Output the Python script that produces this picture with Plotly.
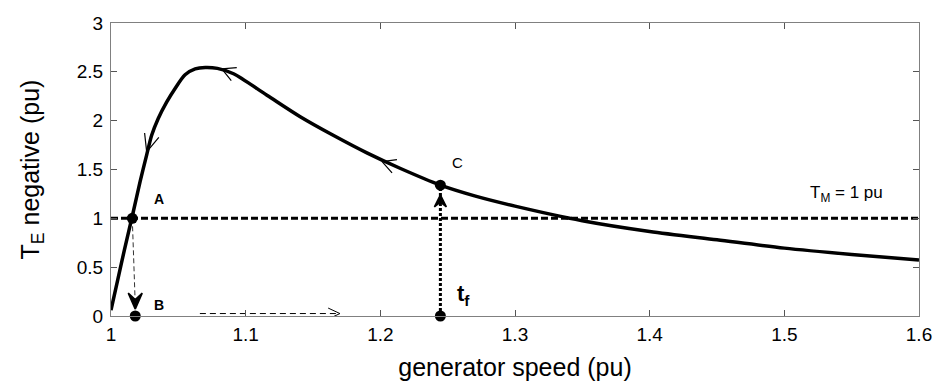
import math
import plotly.graph_objects as go

# ---- data ----
speed = [1.0, 1.005, 1.01, 1.0166, 1.0216, 1.0265, 1.0302, 1.035, 1.0413, 1.0476, 1.055,
         1.0625, 1.07, 1.079, 1.091, 1.1158, 1.1405, 1.165, 1.19, 1.215, 1.2446, 1.27,
         1.3, 1.35, 1.4, 1.45, 1.5, 1.55, 1.6]
te_neg = [0.06, 0.37, 0.68, 1.07, 1.375, 1.65, 1.85, 2.02, 2.19, 2.33, 2.47,
          2.53, 2.545, 2.535, 2.48, 2.26, 2.04, 1.85, 1.67, 1.51, 1.34, 1.23,
          1.125, 0.975, 0.865, 0.78, 0.695, 0.63, 0.573]
tm_level = 1.0
pt_A = (1.0158, 1.0)
pt_B = (1.018, 0.0)
pt_C = (1.2446, 1.34)
pt_tf = (1.2446, 0.0)
shift_x = [1.066, 1.17]       # dashed horizontal arrow B -> tf
shift_y = 0.025
# curve arrows: (tail_x, tail_y, tip_x, tip_y)
curve_arrows = [(1.0302, 1.85, 1.0265, 1.68),
                (1.096, 2.45, 1.0823, 2.53),
                (1.216, 1.505, 1.2013, 1.58)]
x_ticks = [1, 1.1, 1.2, 1.3, 1.4, 1.5, 1.6]
x_ticklabels = ["1", "1.1", "1.2", "1.3", "1.4", "1.5", "1.6"]
y_ticks = [0, 0.5, 1, 1.5, 2, 2.5, 3]
y_ticklabels = ["0", "0.5", "1", "1.5", "2", "2.5", "3"]

FONT = "Liberation Sans, Arial, sans-serif"
W, H = 937, 390
ML, MR, MT, MB = 111, 18, 23, 74
XR = [1, 1.6]
YR = [0, 3]
PX_X = (W - ML - MR) / (XR[1] - XR[0])   # pixels per x unit
PX_Y = (H - MT - MB) / (YR[1] - YR[0])   # pixels per y unit

fig = go.Figure()


def unit_back(tail, tip):
    dx = (tail[0] - tip[0]) * PX_X
    dy = (tail[1] - tip[1]) * PX_Y
    n = math.hypot(dx, dy)
    return dx / n, dy / n


def v_arrow(tail, tip, length=16, half_angle=27, width=1.2):
    """Open V arrow head drawn as two barbs at the tip (computed in pixel space)."""
    ux, uy = unit_back(tail, tip)
    xs, ys = [], []
    for s in (1, -1):
        a = math.radians(half_angle) * s
        bx = ux * math.cos(a) - uy * math.sin(a)
        by = ux * math.sin(a) + uy * math.cos(a)
        xs.append(tip[0] + bx * length / PX_X)
        ys.append(tip[1] + by * length / PX_Y)
    fig.add_trace(go.Scatter(x=[xs[0], tip[0], xs[1]], y=[ys[0], tip[1], ys[1]],
                             mode="lines", line=dict(color="black", width=width),
                             cliponaxis=False, hoverinfo="skip", showlegend=False))


def filled_head(tail, tip, length=14, half_width=5, notch=0.55):
    """Filled barbed arrow head (polygon computed in pixel space)."""
    ux, uy = unit_back(tail, tip)
    px_, py_ = -uy, ux
    pts = [(0, 0),
           (ux * length + px_ * half_width, uy * length + py_ * half_width),
           (ux * length * notch, uy * length * notch),
           (ux * length - px_ * half_width, uy * length - py_ * half_width),
           (0, 0)]
    fig.add_trace(go.Scatter(x=[tip[0] + p[0] / PX_X for p in pts],
                             y=[tip[1] + p[1] / PX_Y for p in pts],
                             mode="lines", fill="toself", fillcolor="black",
                             line=dict(color="black", width=1.5),
                             cliponaxis=False, hoverinfo="skip", showlegend=False))


# T_M horizontal dashed line
fig.add_trace(go.Scatter(x=[x_ticks[0], x_ticks[-1]], y=[tm_level, tm_level], mode="lines",
                         line=dict(color="black", width=3, dash="7px,3px"),
                         hoverinfo="skip", showlegend=False, cliponaxis=False))
# dashed A -> B
fig.add_trace(go.Scatter(x=[pt_A[0], pt_B[0]], y=[pt_A[1], pt_B[1] + 0.12], mode="lines",
                         line=dict(color="#333333", width=1, dash="5px,3px"),
                         hoverinfo="skip", showlegend=False))
# dashed horizontal B -> tf
fig.add_trace(go.Scatter(x=shift_x, y=[shift_y, shift_y], mode="lines",
                         line=dict(color="black", width=1, dash="6px,4px"),
                         hoverinfo="skip", showlegend=False))
# dotted vertical tf -> C
fig.add_trace(go.Scatter(x=[pt_tf[0], pt_C[0]], y=[pt_tf[1], pt_C[1]], mode="lines",
                         line=dict(color="black", width=3, dash="3px,2px"),
                         hoverinfo="skip", showlegend=False))
# torque-speed curve
fig.add_trace(go.Scatter(x=speed, y=te_neg, mode="lines",
                         line=dict(color="black", width=3.5, shape="spline", smoothing=0.8),
                         showlegend=False))
# points
fig.add_trace(go.Scatter(x=[pt_A[0], pt_B[0], pt_C[0], pt_tf[0]],
                         y=[pt_A[1], pt_B[1], pt_C[1], pt_tf[1]], mode="markers",
                         marker=dict(color="black", size=11), cliponaxis=False,
                         showlegend=False))

# arrow heads
v_arrow(curve_arrows[0][:2], curve_arrows[0][2:], length=19, half_angle=23)
v_arrow(curve_arrows[1][:2], curve_arrows[1][2:], length=15, half_angle=28)
v_arrow(curve_arrows[2][:2], curve_arrows[2][2:], length=15, half_angle=28)
v_arrow((shift_x[0], shift_y), (shift_x[1], shift_y), length=13, half_angle=25, width=1)
filled_head((pt_B[0], 0.3), (pt_B[0], 0.07), length=16, half_width=7, notch=0.6)
filled_head((pt_C[0], 0.9), (pt_C[0], 1.24), length=12, half_width=6, notch=0.6)

ann = [
    dict(x=1.036, y=1.2, text="<b>A</b>", showarrow=False, font=dict(size=14, family=FONT, color="black")),
    dict(x=1.036, y=0.11, text="<b>B</b>", showarrow=False, font=dict(size=14, family=FONT, color="black")),
    dict(x=1.257, y=1.57, text="C", showarrow=False, font=dict(size=15, family=FONT, color="black")),
    dict(x=1.262, y=0.22, text="<b>t<sub>f</sub></b>", showarrow=False, font=dict(size=22, family=FONT, color="black")),
    dict(x=1.546, y=1.25, text="T<sub>M</sub> = 1 pu", showarrow=False, font=dict(size=17, family=FONT, color="black")),
]
for a in ann:
    a["xref"] = "x"
    a["yref"] = "y"

axis_common = dict(showline=True, linecolor="#808080", linewidth=1, mirror="ticks",
                   ticks="inside", ticklen=6, tickcolor="#555555", tickwidth=1,
                   showgrid=False, zeroline=False,
                   tickfont=dict(size=19, family=FONT, color="black"))

fig.update_layout(
    width=W, height=H,
    margin=dict(l=ML, r=MR, t=MT, b=MB),
    paper_bgcolor="white", plot_bgcolor="white",
    xaxis=dict(range=XR, tickvals=x_ticks, ticktext=x_ticklabels,
               ticklabelstandoff=1,
               title=dict(text="generator speed (pu)", standoff=14,
                          font=dict(size=25, family=FONT, color="black")),
               automargin=False, **axis_common),
    yaxis=dict(range=YR, tickvals=y_ticks, ticktext=y_ticklabels,
               ticklabelstandoff=3,
               title=dict(text="T<sub>E</sub> negative (pu)", standoff=30,
                          font=dict(size=25, family=FONT, color="black")),
               automargin=False, **axis_common),
    annotations=ann,
)

fig.write_html("out.html")
